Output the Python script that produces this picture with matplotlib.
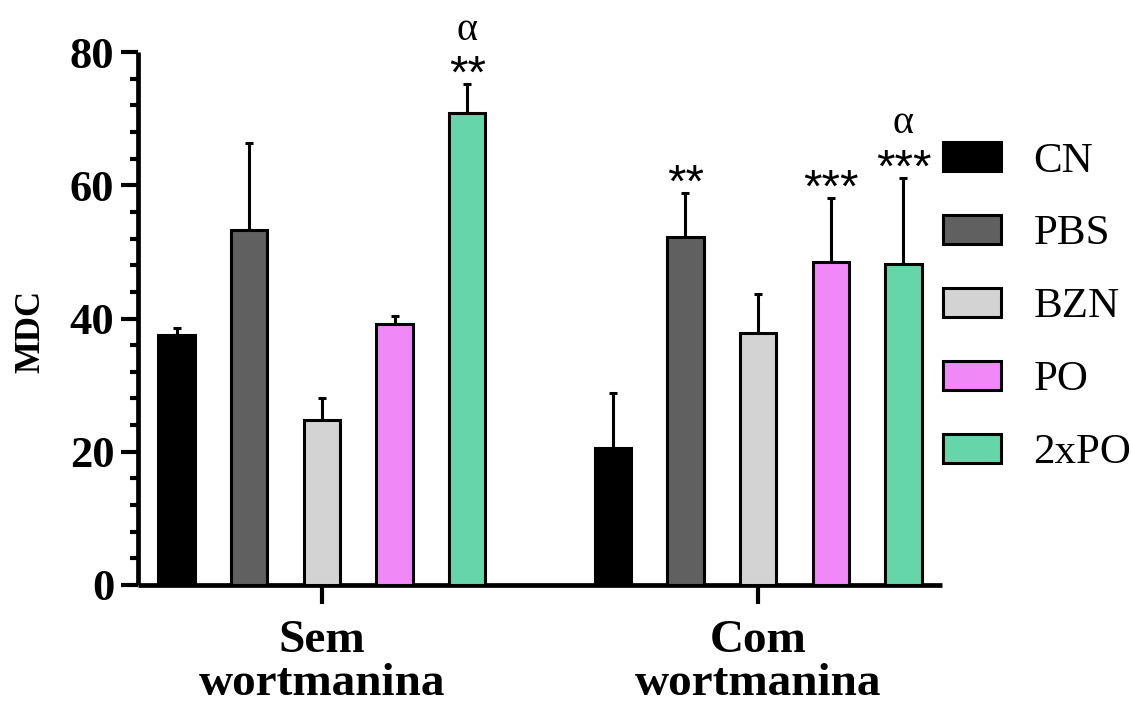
import matplotlib
matplotlib.use("Agg")
import matplotlib.pyplot as plt
from matplotlib.ticker import MultipleLocator, FixedLocator
import numpy as np

# ---- data ----
groups = ["Sem\nwortmanina", "Com\nwortmanina"]
treatments = ["CN", "PBS", "BZN", "PO", "2xPO"]
colors = ["#000000", "#606060", "#d3d3d3", "#f088f8", "#66d6aa"]
sem_means = [37.5, 53.3, 24.7, 39.1, 70.9]
sem_err = [1.1, 13.0, 3.4, 1.3, 4.3]
com_means = [20.6, 52.2, 37.8, 48.5, 48.2]
com_err = [8.2, 6.6, 5.9, 9.6, 12.9]
sem_stars = ["", "", "", "", "**"]
com_stars = ["", "**", "", "***", "***"]
sem_alpha = ["", "", "", "", "α"]
com_alpha = ["", "", "", "", "α"]
y_ticks = [0, 20, 40, 60, 80]
y_label = "MDC"

means = [sem_means, com_means]
errs = [sem_err, com_err]
stars = [sem_stars, com_stars]
alphas = [sem_alpha, com_alpha]

serif = "Liberation Serif"
W, H = 1131, 706
fig = plt.figure(figsize=(W / 100, H / 100), dpi=100)
ax = fig.add_axes([138 / W, 1 - 585 / H, (942 - 138) / W, (585 - 52) / H])

n = len(treatments)
group_start = [0, n + 1]
handles = []
for g in range(len(groups)):
    xs = np.arange(n) + group_start[g]
    bars = ax.bar(xs, means[g], width=0.5, color=colors, edgecolor="black",
                  linewidth=2.2, zorder=3)
    if g == 0:
        handles = list(bars)
    ax.errorbar(xs, means[g], yerr=[np.zeros(n), errs[g]], fmt="none",
                ecolor="black", elinewidth=2.2, capsize=3, capthick=2.2,
                zorder=2)
    for i in range(n):
        top = means[g][i] + errs[g][i]
        if stars[g][i]:
            ax.annotate(stars[g][i], (xs[i], top), xytext=(0, -2.5),
                        textcoords="offset points", ha="center", va="baseline",
                        fontsize=34, family="Liberation Sans")
        if alphas[g][i]:
            ax.annotate(alphas[g][i], (xs[i], top), xytext=(0, 32),
                        textcoords="offset points", ha="center", va="baseline",
                        fontsize=29, family=serif)

ax.set_xlim(-0.53, 2 * n + 1 - 1 + 0.53)
ax.set_ylim(0, 80)
ax.yaxis.set_major_locator(FixedLocator(y_ticks))
ax.yaxis.set_minor_locator(MultipleLocator(4))
ax.set_xticks([group_start[g] + (n - 1) / 2 for g in range(len(groups))])
ax.set_xticklabels(groups, fontsize=34, fontweight="bold", family=serif,
                   linespacing=1.04)

for side in ["top", "right"]:
    ax.spines[side].set_visible(False)
for side in ["left", "bottom"]:
    ax.spines[side].set_linewidth(3.4)
    ax.spines[side].set_capstyle("butt")

ax.tick_params(axis="y", which="major", length=12, width=3, pad=5,
               labelsize=32)
ax.tick_params(axis="y", which="minor", length=6, width=3)
ax.tick_params(axis="x", which="major", length=14, width=3, pad=11)
for lab in ax.get_yticklabels():
    lab.set_fontfamily(serif)
    lab.set_fontweight("bold")

ax.set_ylabel(y_label, fontsize=25, fontweight="bold", family=serif)
ax.yaxis.set_label_coords(-0.113, 0.475)

fig.legend(handles, treatments, loc="upper left",
           bbox_to_anchor=(943 / W, 1 - 142 / H), frameon=False,
           prop={"family": serif, "size": 31}, handlelength=1.35,
           handleheight=0.65, handletextpad=0.75, labelspacing=0.8,
           borderpad=0, borderaxespad=0)

fig.savefig("out.png", dpi=100)
